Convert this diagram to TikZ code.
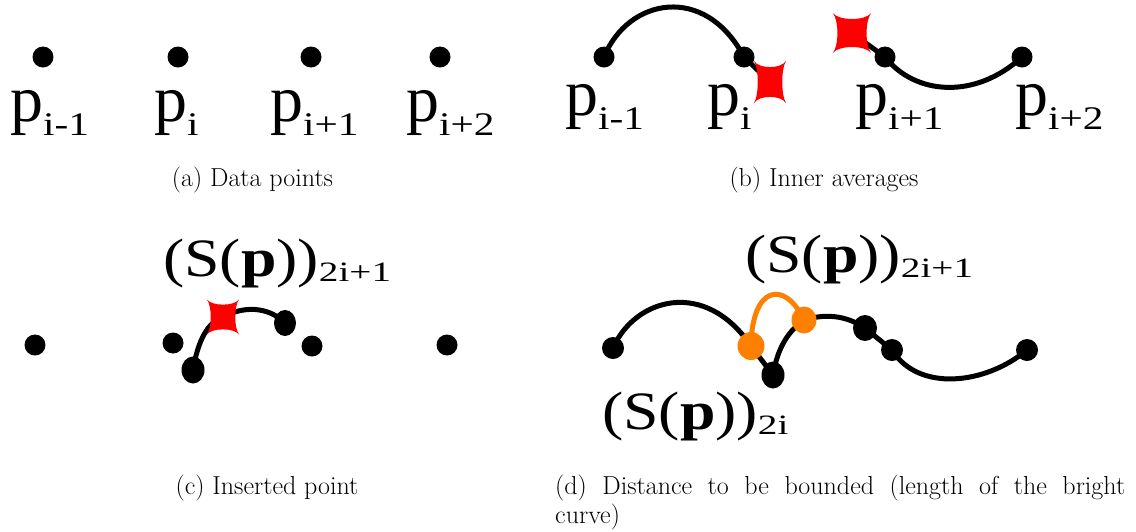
\documentclass[tikz,border=0pt]{standalone}
\usepackage{fontspec}
\usepackage{graphicx}
\usetikzlibrary{shapes.geometric}
\newfontfamily\labfont{Liberation Serif}
\pgfdeclarelayer{bg}
\pgfsetlayers{bg,main}
\definecolor{brightorange}{RGB}{255,128,0}
\newcommand{\plab}[1]{{\labfont\fontsize{66}{66}\selectfont p\raisebox{-14pt}{\fontsize{33}{33}\selectfont\scalebox{1.25}[1]{#1}}}}
\newcommand{\splab}[1]{{\labfont\fontsize{54}{54}\selectfont\scalebox{1.18}[1]{(S(\textbf{p}))}\raisebox{-5pt}{\fontsize{28}{28}\selectfont\scalebox{1.4}[1]{#1}}}}
\begin{document}
\begin{tikzpicture}[x=1pt,y=-1pt,
  dot/.style={circle,fill=black,inner sep=0pt,minimum size=21pt},
  bigdot/.style={ellipse,fill=black,inner sep=0pt,minimum width=23pt,minimum height=27pt},
  blob/.style={ellipse,fill=brightorange,inner sep=0pt,minimum width=27pt,minimum height=28pt},
  curve/.style={line width=5pt,black},
  bright/.style={line width=5pt,brightorange},
  lab/.style={anchor=base west,inner sep=0pt},
  captext/.style={inner sep=0pt,font=\fontsize{26}{29}\selectfont},
  redstar/.pic={\fill[red] (-16,-18) .. controls (-11,-11) and (11,-11) .. (16,-18)
     .. controls (11,-11) and (11,11) .. (16,18) .. controls (11,11) and (-11,11) .. (-16,18)
     .. controls (-11,11) and (-11,-11) .. cycle;}]
\useasboundingbox (0,0) rectangle (1136,531);

% (a)
\node[dot] (a1) at (43,57) {};
\node[dot] (a2) at (178,57) {};
\node[dot] (a3) at (311,57) {};
\node[dot] (a4) at (440,57) {};
\node[lab] (la1) at (10,121) {\plab{i-1}};
\node[lab] (la2) at (154,121) {\plab{i}};
\node[lab] (la3) at (270,121) {\plab{i+1}};
\node[lab] (la4) at (406,121) {\plab{i+2}};
\node[captext,anchor=base] (capa) at (252.5,186) {(a) Data points};

% (b)
\node[dot] (b1) at (604,57) {};
\node[dot] (b2) at (744,57) {};
\node[dot] (b3) at (885,57) {};
\node[dot] (b4) at (1022,57) {};
\coordinate (x1) at (770,82);
\coordinate (x2) at (852,33);
\begin{pgfonlayer}{bg}
\draw[curve] (b1.center) .. controls (628,-2) and (705,-17) .. (b2.center) -- (x1);
\draw[curve] (x2) -- (b3.center) .. controls (915,95) and (975,100) .. (b4.center);
\end{pgfonlayer}
\pic[yscale=1.17] at (x1) {redstar};
\pic[xscale=1.19,yscale=1.1] at (x2) {redstar};
\node[lab] (lb1) at (565,115) {\plab{i-1}};
\node[lab] (lb2) at (707,115) {\plab{i}};
\node[lab] (lb3) at (855,115) {\plab{i+1}};
\node[lab] (lb4) at (1015,115) {\plab{i+2}};
\node[captext,anchor=base] (capb) at (824,186) {(b) Inner averages};

% (c)
\node[dot] (c1) at (35,345) {};
\node[dot] (c2) at (173,343) {};
\node[dot] (c3) at (312,346) {};
\node[dot] (c4) at (447,345) {};
\node[bigdot] (ce) at (193,370) {};
\node[bigdot,minimum width=22pt,minimum height=26pt] (cf) at (285,323) {};
\coordinate (x3) at (223,317);
\begin{pgfonlayer}{bg}
\draw[curve] (ce.center) .. controls (198,340) and (208,322) .. (x3)
   .. controls (243,306) and (268,306) .. (cf.center);
\end{pgfonlayer}
\pic[yscale=0.97] at (x3) {redstar};
\node[lab] (sc) at (163,276) {\splab{2i+1}};
\node[captext,anchor=base] (capc) at (267,494) {(c) Inserted point};

% (d)
\node[dot,minimum size=22pt] (dG) at (613,348) {};
\node[bigdot] (dH) at (773,375) {};
\node[bigdot,minimum width=24pt,minimum height=26pt] (dI) at (865,328) {};
\node[dot,minimum size=22pt] (dJ) at (892,350) {};
\node[dot,minimum size=22pt] (dK) at (1027,350) {};
\node[blob] (o1) at (751,346) {};
\node[blob,minimum width=25pt,minimum height=27pt] (o2) at (804,320) {};
\begin{pgfonlayer}{bg}
\draw[curve] (dG.center) .. controls (635,298) and (705,278) .. (o1.center) -- (dH.center)
   .. controls (778,345) and (790,330) .. (o2.center)
   .. controls (830,312) and (850,318) .. (dI.center) -- (dJ.center)
   .. controls (918,392) and (985,385) .. (dK.center);
\draw[bright] (o1.center) .. controls (752,285) and (785,280) .. (o2.center);
\end{pgfonlayer}
\node[lab] (sd1) at (745,272) {\splab{2i+1}};
\node[lab] (sd2) at (602,429) {\splab{2i}};
\node[captext,anchor=base west] (capd) at (555,494) {\parbox[t]{570pt}{(d) Distance to be bounded (length of the bright\linebreak curve)}};
\end{tikzpicture}
\end{document}
